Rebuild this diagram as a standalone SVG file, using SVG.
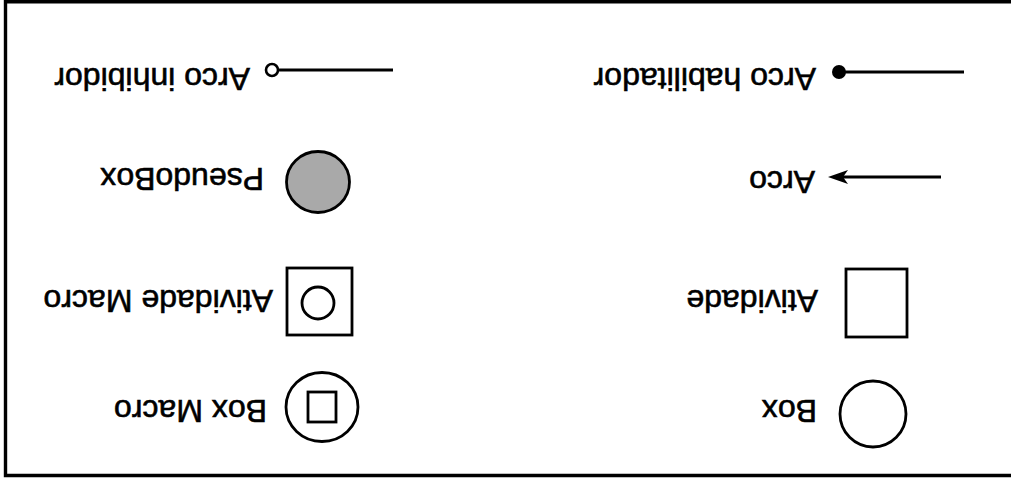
<svg xmlns="http://www.w3.org/2000/svg" width="1011" height="482" viewBox="0 0 1011 482">
<defs>
<style>
.s{fill:none;stroke:#000;stroke-width:2.8}
.t{font-family:"Liberation Sans",Arial,sans-serif;font-size:32px;fill:#000;stroke:#000;stroke-width:0.6}
.ln{stroke:#000;stroke-width:2.8;fill:none}
</style>
</defs>
<rect width="1011" height="482" fill="#fff"/>
<path d="M1011,1.8 L5.5,1.8 L5.5,475.5 L1011,475.5" fill="none" stroke="#000" stroke-width="3.4"/>
<g id="connectors">
<g id="arco-habilitador">
<line class="ln" x1="964" y1="72" x2="840" y2="72"/>
<circle cx="839" cy="72" r="7" fill="#000"/>
</g>
<g id="arco">
<line class="ln" x1="941" y1="177" x2="840" y2="177"/>
<path d="M828,177 L848,170 L843,177 L848,184 Z" fill="#000"/>
</g>
<g id="arco-inhibidor">
<line class="ln" x1="393" y1="70" x2="279" y2="70"/>
<circle cx="272" cy="70" r="6" fill="#fff" stroke="#000" stroke-width="2.6"/>
</g>
</g>
<g id="label-arco-habilitador"><text class="t" transform="rotate(180 816 68)" x="816" y="68">Arco habilitador</text></g>
<g id="label-arco"><text class="t" transform="rotate(180 815 171)" x="815" y="171">Arco</text></g>
<g id="label-arco-inhibidor"><text class="t" transform="rotate(180 250 68)" x="250" y="68">Arco inhibidor</text></g>
<g id="pseudobox">
<ellipse cx="318" cy="182" rx="31.5" ry="30.5" fill="#a9a9a9" stroke="#000" stroke-width="2.8"/>
<text class="t" transform="rotate(180 264 168)" x="264" y="168">PseudoBox</text>
</g>
<g id="atividade">
<rect class="s" x="846" y="269" width="61" height="68"/>
<text class="t" transform="rotate(180 818 290)" x="818" y="290">Atividade</text>
</g>
<g id="box">
<ellipse class="s" cx="873" cy="414" rx="33" ry="33"/>
<text class="t" transform="rotate(180 817 400)" x="817" y="400">Box</text>
</g>
<g id="atividade-macro">
<rect class="s" x="287" y="268" width="65" height="67"/>
<ellipse class="s" cx="318" cy="303" rx="16" ry="16"/>
<text class="t" transform="rotate(180 273 290)" x="273" y="290">Atividade Macro</text>
</g>
<g id="box-macro">
<ellipse class="s" cx="322" cy="407" rx="36" ry="34.5"/>
<rect class="s" x="308" y="392" width="28" height="30"/>
<text class="t" transform="rotate(180 267 400)" x="267" y="400">Box Macro</text>
</g>
</svg>
